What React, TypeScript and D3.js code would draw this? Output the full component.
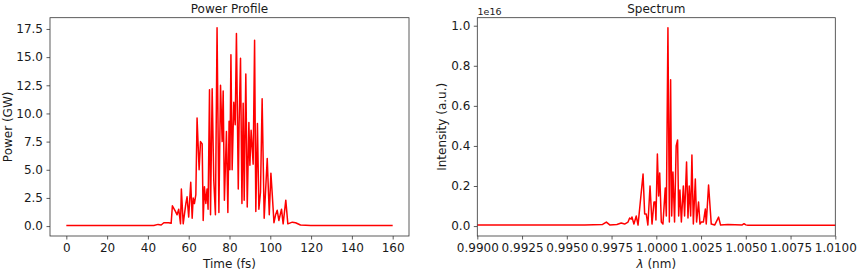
import React, { useEffect, useRef } from 'react';
import * as d3 from 'd3';

// power profile
const timeFs = [0, 42.9, 45, 46.5, 47.8, 50.2, 51.4, 52.0, 53.5, 54.3, 55.1, 56.0, 56.4, 57.3, 58.6, 59.2, 60.0, 61.0, 61.7, 62.2, 62.8, 63.5, 64.1, 65.1, 65.8, 66.6, 67.1, 67.7, 68.4, 69.0, 69.5, 70.2, 70.7, 71.5, 72.3, 73.1, 73.9, 74.8, 75.6, 76.4, 76.9, 77.5, 78.5, 79.2, 79.8, 80.2, 80.7, 81.3, 82.1, 82.8, 83.4, 84.3, 84.7, 85.4, 86.1, 86.7, 87.2, 88.0, 88.7, 89.5, 90.0, 90.6, 91.6, 92.3, 92.9, 93.7, 94.4, 95.2, 96.0, 97.0, 98.5, 99.5, 100.3, 100.9, 101.8, 102.6, 103.4, 104.2, 105.5, 106.3, 107.6, 108.6, 110.8, 112.4, 114.8, 119.8, 160];
const powerGW = [0.05, 0.05, 0.15, 0.1, 0.3, 0.3, 0.25, 1.8, 1.3, 1.0, 1.5, 0.2, 3.3, 0.2, 2.0, 2.6, 0.8, 3.9, 0.7, 2.5, 2.0, 2.8, 9.6, 5.0, 7.5, 7.3, 0.5, 3.5, 2.0, 3.3, 1.5, 12.1, 1.0, 12.2, 4.0, 1.0, 17.6, 1.2, 12.5, 7.5, 12.0, 2.3, 8.4, 1.2, 9.3, 5.0, 15.2, 5.0, 11.0, 9.0, 17.1, 3.3, 9.0, 14.9, 2.0, 10.9, 2.3, 13.5, 1.7, 9.2, 5.4, 8.5, 5.5, 16.5, 1.3, 9.1, 1.5, 3.0, 11.3, 0.7, 6.0, 1.0, 4.7, 3.0, 0.3, 1.0, 1.4, 0.5, 1.5, 0.2, 2.3, 0.2, 0.35, 0.3, 0.1, 0.05, 0.05];

// spectrum, intensity in units of 1e16
const lambdaNm = [0.985, 0.99600, 0.99700, 0.99721, 0.99740, 0.99780, 0.99804, 0.99823, 0.99842, 0.99851, 0.99860, 0.99864, 0.99875, 0.99888, 0.99898, 0.99926, 0.99935, 0.99944, 0.99953, 0.99965, 0.99976, 0.99987, 0.99994, 0.99998, 1.00006, 1.00013, 1.00019, 1.00028, 1.00037, 1.00050, 1.00056, 1.00065, 1.00073, 1.00080, 1.00086, 1.00093, 1.00102, 1.00111, 1.00119, 1.00125, 1.00132, 1.00140, 1.00151, 1.00158, 1.00169, 1.00177, 1.00184, 1.00192, 1.00199, 1.00207, 1.00218, 1.00225, 1.00236, 1.00244, 1.00251, 1.00263, 1.00274, 1.00279, 1.00292, 1.00307, 1.00326, 1.00348, 1.00359, 1.00400, 1.00480, 1.00490, 1.00500, 1.00512, 1.015];
const intensity = [0.005, 0.006, 0.008, 0.02, 0.006, 0.008, 0.015, 0.01, 0.02, 0.04, 0.035, 0.045, 0.01, 0.05, 0.005, 0.26, 0.06, 0.06, 0.005, 0.2, 0.01, 0.12, 0.12, 0.03, 0.36, 0.15, 0.265, 0.02, 0.01, 0.19, 0.05, 0.99, 0.02, 0.73, 0.05, 0.27, 0.02, 0.40, 0.43, 0.05, 0.18, 0.02, 0.20, 0.05, 0.32, 0.04, 0.20, 0.05, 0.355, 0.01, 0.235, 0.02, 0.12, 0.01, 0.02, 0.02, 0.085, 0.01, 0.205, 0.01, 0.005, 0.045, 0.005, 0.008, 0.006, 0.012, 0.006, 0.004, 0.004];

const timeTicks = [0, 20, 40, 60, 80, 100, 120, 140, 160];
const powerTicks = [0, 2.5, 5, 7.5, 10, 12.5, 15, 17.5];
const lambdaTicks = [0.99, 0.9925, 0.995, 0.9975, 1.0, 1.0025, 1.005, 1.0075, 1.01];
const intensityTicks = [0, 0.2, 0.4, 0.6, 0.8, 1.0];

const W = 858;
const H = 273;
const font = "'DejaVu Sans', sans-serif";

export default function App() {
  const ref = useRef<SVGSVGElement>(null);

  useEffect(() => {
    const svg = d3.select(ref.current);
    svg.selectAll('*').remove();

    const panel = (opts: any) => {
      const { x0, x1, y0, y1, xDomain, yDomain, xs, ys, xTicks, yTicks, xFmt, yFmt, title, yLabel, xLabel, id } = opts;
      const x = d3.scaleLinear(xDomain, [x0, x1]);
      const y = d3.scaleLinear(yDomain, [y1, y0]);
      const g = svg.append('g');

      g.append('clipPath').attr('id', id)
        .append('rect').attr('x', x0).attr('y', y0).attr('width', x1 - x0).attr('height', y1 - y0);

      const line = d3.line<number>().x((d, i) => x(xs[i])).y(d => y(d));
      g.append('path')
        .datum(ys)
        .attr('d', line)
        .attr('fill', 'none')
        .attr('stroke', '#ff0000')
        .attr('stroke-width', 1.5)
        .attr('stroke-linejoin', 'round')
        .attr('clip-path', `url(#${id})`);

      const xAxis = g.append('g').attr('transform', `translate(0,${y1})`)
        .call(d3.axisBottom(x).tickValues(xTicks).tickFormat(xFmt).tickSize(3.5).tickPadding(3.5));
      const yAxis = g.append('g').attr('transform', `translate(${x0},0)`)
        .call(d3.axisLeft(y).tickValues(yTicks).tickFormat(yFmt).tickSize(3.5).tickPadding(3.5));
      [xAxis, yAxis].forEach(a => {
        a.select('.domain').remove();
        a.selectAll('line').attr('stroke', '#333').attr('stroke-width', 0.8);
        a.selectAll('text').attr('font-family', font).attr('font-size', 12).attr('fill', '#1a1a1a');
      });

      g.append('rect')
        .attr('x', x0).attr('y', y0).attr('width', x1 - x0).attr('height', y1 - y0)
        .attr('fill', 'none').attr('stroke', '#333').attr('stroke-width', 0.8);

      g.append('text')
        .attr('x', (x0 + x1) / 2).attr('y', y0 - 5)
        .attr('text-anchor', 'middle').attr('font-family', font).attr('font-size', 12).attr('fill', '#1a1a1a')
        .text(title);

      const xl = g.append('text')
        .attr('x', (x0 + x1) / 2).attr('y', y1 + 32)
        .attr('text-anchor', 'middle').attr('font-family', font).attr('font-size', 12).attr('fill', '#1a1a1a');
      xLabel(xl);

      g.append('text')
        .attr('transform', `translate(${opts.yLabelX},${(y0 + y1) / 2}) rotate(-90)`)
        .attr('text-anchor', 'middle').attr('font-family', font).attr('font-size', 12).attr('fill', '#1a1a1a')
        .text(yLabel);
    };

    panel({
      id: 'clipA', x0: 50, x1: 409, y0: 17.7, y1: 236,
      xDomain: [-8, 168], yDomain: [-0.88, 18.5],
      xs: timeFs, ys: powerGW, xTicks: timeTicks, yTicks: powerTicks,
      xFmt: d3.format('d'), yFmt: d3.format('.1f'),
      title: 'Power Profile', yLabel: 'Power (GW)', yLabelX: 12,
      xLabel: (t: any) => t.text('Time (fs)'),
    });

    panel({
      id: 'clipB', x0: 477.3, x1: 835.3, y0: 17.7, y1: 236,
      xDomain: [0.99, 1.01], yDomain: [-0.0495, 1.04],
      xs: lambdaNm, ys: intensity, xTicks: lambdaTicks, yTicks: intensityTicks,
      xFmt: d3.format('.4f'), yFmt: d3.format('.1f'),
      title: 'Spectrum', yLabel: 'Intensity (a.u.)', yLabelX: 446,
      xLabel: (t: any) => {
        t.append('tspan').attr('font-style', 'italic').text('λ');
        t.append('tspan').text(' (nm)');
      },
    });

    svg.append('text')
      .attr('x', 477.5).attr('y', 15)
      .attr('font-family', font).attr('font-size', 9.5).attr('fill', '#1a1a1a')
      .text('1e16');
  }, []);

  return (
    <svg ref={ref} width={W} height={H} viewBox={`0 0 ${W} ${H}`}
      style={{ position: 'absolute', left: 0, top: 0, background: '#fff' }} />
  );
}
